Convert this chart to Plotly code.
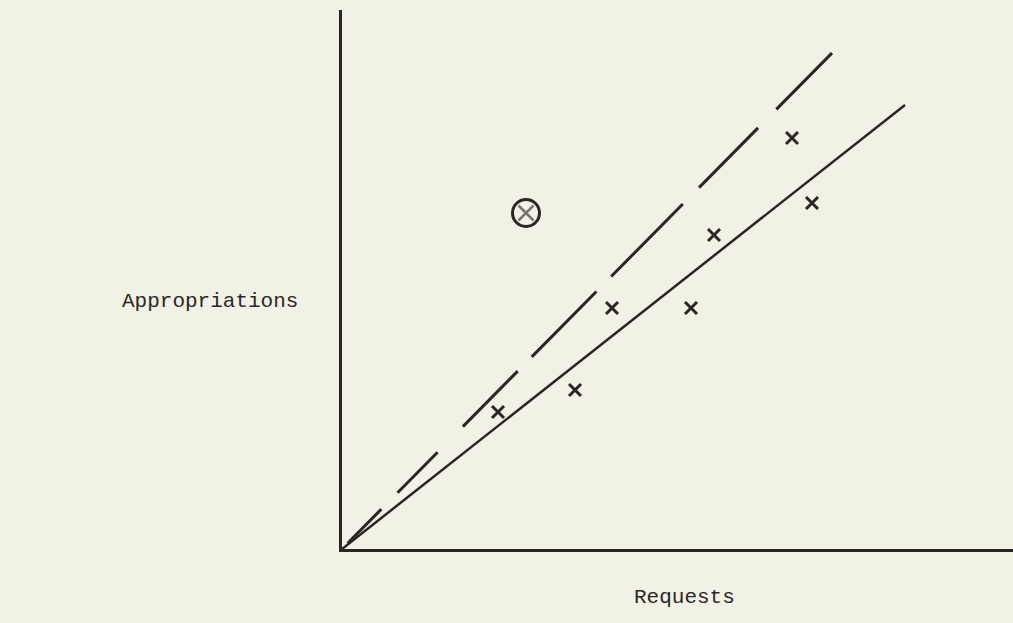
import plotly.graph_objects as go

# values (arbitrary units, origin at the axes corner)
REQUESTS = [15.6, 23.3, 27.0, 34.9, 37.2, 45.0, 47.0]
APPROPRIATIONS = [13.7, 15.9, 24.1, 24.1, 31.4, 41.1, 34.6]

# the circled outlier
OUTLIER_X = [18.4]
OUTLIER_Y = [33.6]

# fitted line (solid) and the reference line (dashed)
FIT_X = [0, 56.3]
FIT_Y = [0, 44.4]
REF_X = [0, 49.0]
REF_Y = [0, 49.6]

INK = "#2b2626"
PAPER = "#f2f1e6"

fig = go.Figure()

# dashed line, hand drawn so the dashes are uneven
fig.add_trace(go.Scatter(
    x=REF_X, y=REF_Y, mode="lines",
    line=dict(color=INK, width=3,
              dash="0px,8px,48px,23px,57px,36px,78px,20px,92px,21px,102px,23px,84px,26px,78px"),
    hoverinfo="skip", showlegend=False,
))

# solid fitted line
fig.add_trace(go.Scatter(
    x=FIT_X, y=FIT_Y, mode="lines",
    line=dict(color=INK, width=2.5),
    hoverinfo="skip", showlegend=False,
))

# observations
fig.add_trace(go.Scatter(
    x=REQUESTS, y=APPROPRIATIONS, mode="markers",
    marker=dict(symbol="x-thin", size=12, color=INK, line=dict(width=3, color=INK)),
    showlegend=False,
))

# circled x
fig.add_trace(go.Scatter(
    x=OUTLIER_X, y=OUTLIER_Y, mode="markers",
    marker=dict(symbol="circle-open", size=27, color=INK, line=dict(width=3, color=INK)),
    showlegend=False, hoverinfo="skip",
))
fig.add_trace(go.Scatter(
    x=OUTLIER_X, y=OUTLIER_Y, mode="markers",
    marker=dict(symbol="x-thin", size=15, color="#7a7575", line=dict(width=2.5, color="#7a7575")),
    showlegend=False,
))

axis_style = dict(
    showgrid=False, zeroline=False, showticklabels=False, ticks="",
    showline=True, linecolor=INK, linewidth=3, fixedrange=True,
)
fig.update_xaxes(range=[0, 67.1], **axis_style)
fig.update_yaxes(range=[0, 53.9], **axis_style)

# typewritten labels
fig.add_annotation(text="Appropriations", xref="paper", yref="paper",
                   x=-0.197, y=0.46, xanchor="center", yanchor="middle",
                   showarrow=False, font=dict(family="Liberation Mono", size=21, color=INK))
fig.add_annotation(text="Requests", xref="paper", yref="paper",
                   x=0.51, y=-0.09, xanchor="center", yanchor="middle",
                   showarrow=False, font=dict(family="Liberation Mono", size=21, color=INK))

fig.update_layout(
    width=1013, height=623,
    margin=dict(l=342, r=0, t=10, b=74),
    paper_bgcolor=PAPER, plot_bgcolor=PAPER,
    showlegend=False,
)

# drop the page margin so the figure fills the window like the scan
fig.write_html(
    "out.html",
    config={"displayModeBar": False},
    post_script="document.body.style.margin='0';document.body.style.background='#f2f1e6';",
)
